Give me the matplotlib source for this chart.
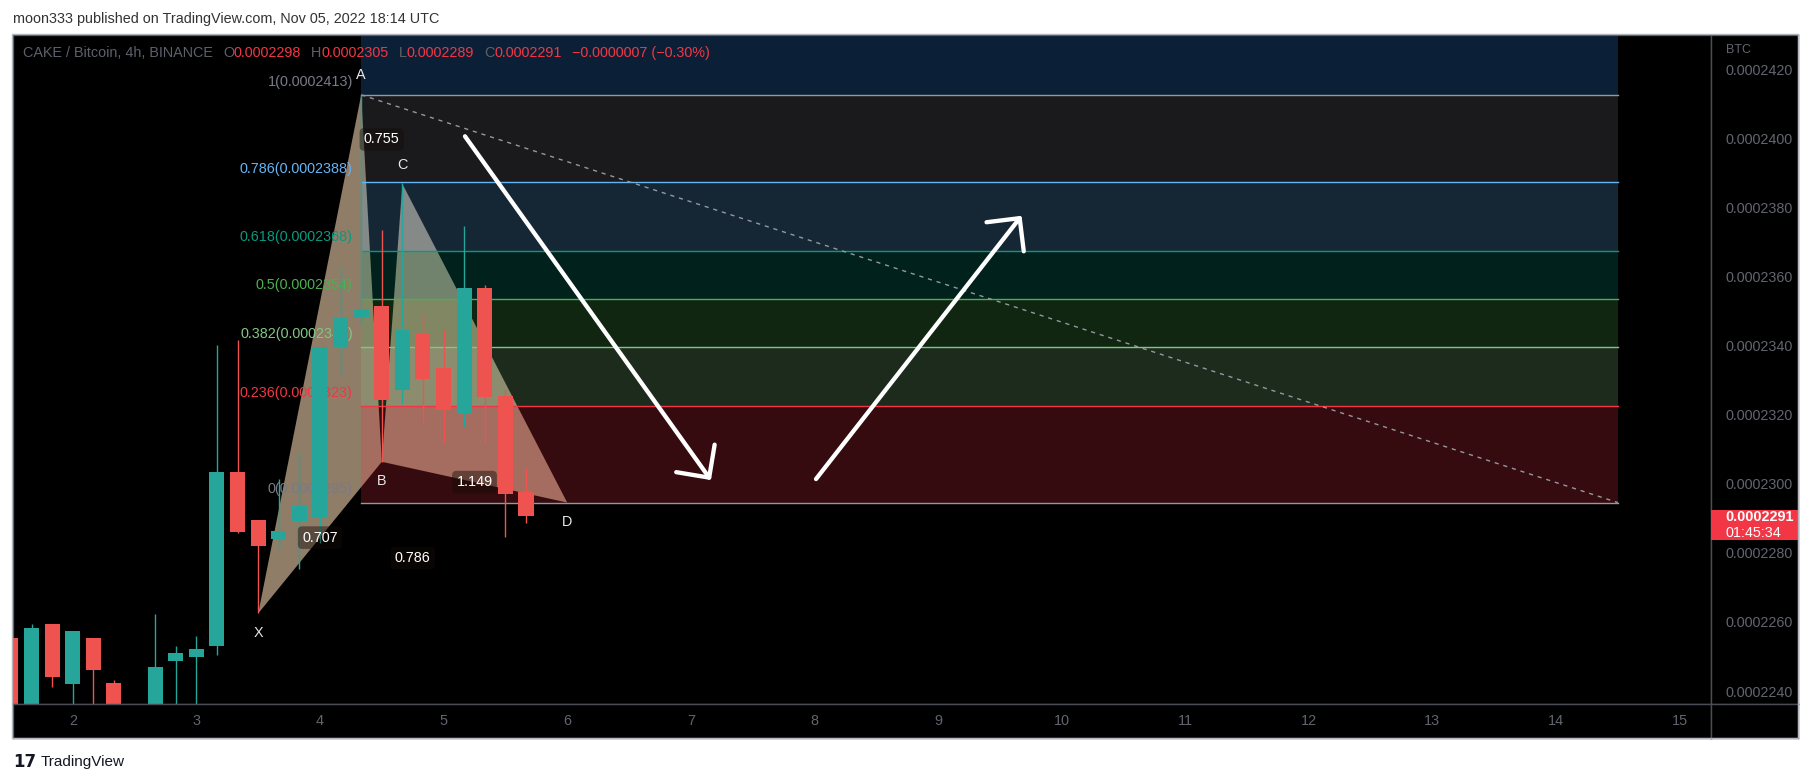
import numpy as np
import matplotlib
matplotlib.use('Agg')
import matplotlib.pyplot as plt
from matplotlib.patches import Rectangle, Polygon

plt.rcParams['font.family'] = ['Liberation Sans', 'DejaVu Sans']

##########
## DATA ##
##########

P = 1e-7  # prices below are in units of 1e-7 BTC

# CAKE/BTC 4h candles, first visible one = Nov 1, 12:00 (x axis in days)
first_day = 1.5
opens  = [2255.8, 2232.0, 2259.9, 2242.5, 2255.8, 2242.8, 2233.0, 2232.0, 2249.0, 2250.3,
          2253.5, 2303.9, 2289.9, 2284.4, 2289.6, 2290.6, 2340.1, 2348.8, 2351.9, 2327.6,
          2344.0, 2333.9, 2320.6, 2357.1, 2325.8, 2298.0]
highs  = [2257.0, 2259.9, 2259.9, 2257.8, 2255.8, 2243.7, 2235.0, 2262.7, 2253.4, 2256.3,
          2340.5, 2342.0, 2289.9, 2301.8, 2309.7, 2339.9, 2363.1, 2413.0, 2374.0, 2387.5,
          2349.7, 2344.9, 2375.0, 2357.9, 2327.8, 2305.0]
lows   = [2225.0, 2228.0, 2241.7, 2233.0, 2232.0, 2230.0, 2226.0, 2230.0, 2233.0, 2233.0,
          2250.9, 2286.1, 2262.9, 2281.7, 2275.8, 2283.2, 2331.9, 2346.4, 2306.8, 2323.9,
          2318.4, 2312.1, 2316.9, 2312.1, 2284.9, 2289.0]
closes = [2230.0, 2258.7, 2244.6, 2257.8, 2246.5, 2234.0, 2230.0, 2247.3, 2251.4, 2252.7,
          2303.9, 2286.6, 2282.4, 2286.7, 2294.1, 2339.9, 2348.3, 2350.9, 2324.7, 2345.0,
          2330.7, 2321.8, 2357.1, 2325.5, 2297.5, 2291.0]

# fib retracement
fib_low, fib_high = 2295.0, 2413.0
fib_x = [4.3333, 14.5]
fib_ratios = [1, 0.786, 0.618, 0.5, 0.382, 0.236, 0]
fib_colors = ['#787b86', '#64b5f6', '#089981', '#4caf50', '#81c784', '#f23645', '#787b86']

# XABCD pattern
pat_names = ['X', 'A', 'B', 'C', 'D']
pat_x = [3.5, 4.3333, 4.5, 4.6667, 6.0]
pat_y = [2262.9, 2413.0, 2306.8, 2387.2, 2295.0]
ratio_pairs = [('X', 'B'), ('A', 'C'), ('B', 'D'), ('X', 'D')]
ratio_text = ['0.707', '0.755', '1.149', '0.786']

# hand drawn arrows (day, price)
arrow_from = [(5.173, 2401.0), (8.013, 2301.8)]
arrow_to = [(7.163, 2301.5), (9.676, 2378.0)]

price_ticks = [2240, 2260, 2280, 2300, 2320, 2340, 2360, 2380, 2400, 2420]
day_ticks = list(range(2, 16))
last_price = 2291.0
countdown = '01:45:34'

legend_parts = [('CAKE / Bitcoin, 4h, BINANCE', 'dim', 0), ('O', 'dim', 10), ('0.0002298', 'red', 0),
                ('H', 'dim', 10), ('0.0002305', 'red', 0), ('L', 'dim', 10), ('0.0002289', 'red', 0),
                ('C', 'dim', 10), ('0.0002291', 'red', 0), ('\u22120.0000007 (\u22120.30%)', 'red', 10)]

############
## LAYOUT ##
############

W, H = 1813, 783
fig = plt.figure(figsize=(W / 100, H / 100), dpi=100, facecolor='white')

def fx(px):
    return px / W

def fy(py):
    return 1 - py / H

L, R, PR = 12.7, 1711, 1798
T, B, TB = 34.7, 704, 738
FS = 10.4
GRAYTXT = '#62656f'
SEP = '#4a4d57'
TEAL, RED = '#26a69a', '#ef5350'

ax = fig.add_axes([fx(L), fy(B), fx(R) - fx(L), fy(T) - fy(B)])
axp = fig.add_axes([fx(R), fy(B), fx(PR) - fx(R), fy(T) - fy(B)], sharey=ax)
axt = fig.add_axes([fx(L), fy(TB), fx(R) - fx(L), fy(B) - fy(TB)], sharex=ax)
axc = fig.add_axes([fx(R), fy(TB), fx(PR) - fx(R), fy(B) - fy(TB)])
for a in (ax, axp, axt, axc):
    a.set_facecolor('black')
    a.tick_params(left=False, bottom=False, labelleft=False, labelbottom=False)
    for s in a.spines.values():
        s.set_color(SEP)
        s.set_linewidth(1)
axc.set_xticks([])
axc.set_yticks([])

ax.set_xlim(1.5138, 15.254)
ax.set_ylim(2236.7 * P, 2430.4 * P)
ax.set_xticks([])
ax.set_yticks([])
axp.set_xlim(0, 1)
axt.set_ylim(0, 1)

# outer frame
fig.add_artist(Rectangle((fx(12), fy(TB)), fx(PR) - fx(12), fy(34) - fy(TB),
                         transform=fig.transFigure, fill=False, edgecolor='#b2b5be', lw=1))

#############
## DRAWING ##
#############

# pattern triangles (under the fib fills)
pts = {n: (x, y * P) for n, x, y in zip(pat_names, pat_x, pat_y)}
for tri in (['X', 'A', 'B'], ['B', 'C', 'D']):
    ax.add_patch(Polygon([pts[n] for n in tri], closed=True, facecolor='#8f7d68',
                         edgecolor='none', zorder=1))

# fib retracement
levels = [fib_low + r * (fib_high - fib_low) for r in fib_ratios]
ax.add_patch(Rectangle((fib_x[0], fib_high * P), fib_x[1] - fib_x[0], 60 * P,
                       facecolor='#0b2036', edgecolor='none', zorder=0.5))
for i in range(len(levels) - 1):
    ax.add_patch(Rectangle((fib_x[0], levels[i + 1] * P), fib_x[1] - fib_x[0],
                           (levels[i] - levels[i + 1]) * P, facecolor=fib_colors[i],
                           alpha=0.22, edgecolor='none', zorder=2))
for r, lv, c in zip(fib_ratios, levels, fib_colors):
    lc = '#9598a1' if c == '#787b86' else c
    ax.plot(fib_x, [lv * P, lv * P], color=lc, lw=1, zorder=3)
    ax.annotate('%s(%.7f)' % (r, lv * P), xy=(fib_x[0], lv * P), xytext=(-6, 9.5),
                textcoords='offset points', ha='right', va='center', color=c,
                fontsize=FS, zorder=3)
ax.plot(fib_x, [fib_high * P, fib_low * P], color='#9598a1', lw=1,
        linestyle=(0, (3, 3.5)), zorder=3)

# candles
t = first_day + np.arange(len(opens)) / 6
w = 0.1214
for ti, o, h, l, c in zip(t, opens, highs, lows, closes):
    col = TEAL if c >= o else RED
    ax.vlines(ti, l * P, h * P, color=col, lw=1, zorder=5)
    ax.add_patch(Rectangle((ti - w / 2, min(o, c) * P), w, max(abs(c - o), 0.8) * P,
                           facecolor=col, edgecolor='none', zorder=6))

# pattern ratios and letters
for (a_, b_), s in zip(ratio_pairs, ratio_text):
    mx = (pts[a_][0] + pts[b_][0]) / 2
    my = (pts[a_][1] + pts[b_][1]) / 2
    ax.text(mx, my, s, ha='center', va='center', color='white', fontsize=FS, zorder=7,
            bbox=dict(boxstyle='round,pad=0.3,rounding_size=0.3', facecolor='#140c08',
                      alpha=0.45, edgecolor='none'))
for n in pat_names:
    above = n in ('A', 'C')
    ax.annotate(n, xy=pts[n], xytext=(0, 14 if above else -14), textcoords='offset points',
                ha='center', va='center', color='#e8e8e8', fontsize=FS, zorder=7)

# arrows
for (x0, y0), (x1, y1) in zip(arrow_from, arrow_to):
    ax.annotate('', xy=(x1, y1 * P), xytext=(x0, y0 * P),
                arrowprops=dict(arrowstyle='->,head_length=17,head_width=17', mutation_scale=1,
                                lw=3.1, color='white', shrinkA=0, shrinkB=0), zorder=9)

# price scale
ytr = axp.get_yaxis_transform()
axp.text(0.17, 0.977, 'BTC', transform=axp.transAxes, color=GRAYTXT, fontsize=9, va='center')
for p in price_ticks:
    axp.text(0.17, p * P, '%.7f' % (p * P), transform=ytr, color=GRAYTXT, fontsize=FS,
             va='center', ha='left')
axp.add_patch(Rectangle((0, 2284.15 * P), 1, 8.65 * P, transform=ytr, facecolor='#f23645',
                        edgecolor='none', zorder=4))
axp.text(0.17, 2290.8 * P, '%.7f' % (last_price * P), transform=ytr, color='white',
         fontsize=FS, fontweight='bold', va='center', zorder=5)
axp.text(0.17, 2286.2 * P, countdown, transform=ytr, color='white', fontsize=FS,
         va='center', zorder=5)

# time scale
for d in day_ticks:
    axt.text(d, 0.5, str(d), ha='center', va='center', color=GRAYTXT, fontsize=FS)

# legend line
cols = {'dim': '#5d606b', 'red': '#f23645'}
prev = fig.text(fx(23), fy(53), legend_parts[0][0], color=cols[legend_parts[0][1]],
                fontsize=FS, va='center', ha='left')
for s, c, gap in legend_parts[1:]:
    prev = ax.annotate(s, xy=(1, 0.5), xycoords=prev, xytext=(gap, 0),
                       textcoords='offset pixels', va='center', ha='left',
                       color=cols[c], fontsize=FS, zorder=10)

# header / footer
fig.text(fx(13), fy(18.5), 'moon333 published on TradingView.com, Nov 05, 2022 18:14 UTC',
         color='#333333', fontsize=FS, va='center', ha='left')
fig.text(fx(13), fy(762), '17', color='#131722', fontsize=12, fontweight='heavy',
         family='DejaVu Sans', va='center', ha='left')
fig.text(fx(41), fy(762), 'TradingView', color='#131722', fontsize=11, va='center', ha='left')

fig.savefig('out.png', dpi=100, facecolor='white')
